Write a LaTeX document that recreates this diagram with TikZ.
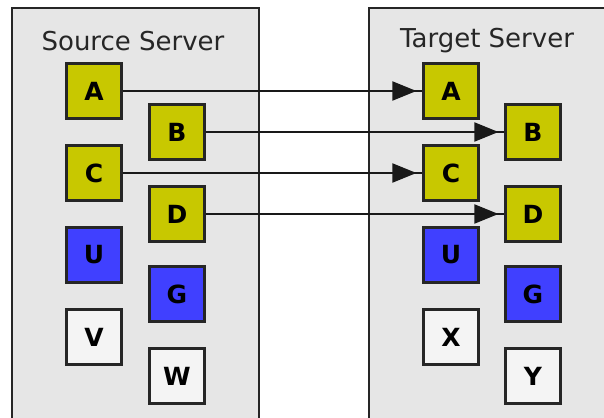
\documentclass[tikz,border=0pt]{standalone}
\usepackage{fontspec}
\setmainfont{DejaVu Sans}
\usetikzlibrary{arrows.meta, decorations.markings}

\definecolor{panelgray}{RGB}{230,230,230}
\definecolor{movedyellow}{RGB}{200,200,0}
\definecolor{keptblue}{RGB}{64,64,255}
\definecolor{plainwhite}{RGB}{244,244,244}

\begin{document}
\begin{tikzpicture}[x=1pt, y=-1pt,
    obj/.style={rectangle, draw=black!85, line width=2.2pt, minimum size=55pt,
        inner sep=0pt, font=\fontsize{25}{30}\selectfont\bfseries},
    moved/.style={obj, fill=movedyellow},
    kept/.style={obj, fill=keptblue},
    plain/.style={obj, fill=plainwhite},
    copyline/.style={line width=2pt, draw=black!90, postaction={decorate},
        decoration={markings, mark=at position -6pt with
            {\arrow{Triangle[length=24pt, width=19pt]}}}}]

\useasboundingbox (0,0) rectangle (604,417);
\clip (0,0) rectangle (604,417);

% servers
\begin{scope}[line width=2.5pt, draw=black!85]
    \draw[fill=panelgray] (12,8) rectangle (259,430);
    \draw[fill=panelgray] (369,8) rectangle (620,430);
\end{scope}

\begin{scope}[every node/.style={font=\fontsize{26}{30}\selectfont, text=black!85}]
    \node (stitle) at (133,41) {Source Server};
    \node (ttitle) at (487,41) {Target Server};
\end{scope}

% source objects
\node[moved] (sA) at (94,91) {A};
\node[moved] (sB) at (177,132) {B};
\node[moved] (sC) at (94,173) {C};
\node[moved] (sD) at (177,214) {D};
\node[kept] (sU) at (94,255) {U};
\node[kept] (sG) at (177,294) {G};
\node[plain] (sV) at (94,337) {V};
\node[plain] (sW) at (177,376) {W};

% target objects
\node[moved] (tA) at (451,91) {A};
\node[moved] (tB) at (533,132) {B};
\node[moved] (tC) at (451,173) {C};
\node[moved] (tD) at (533,214) {D};
\node[kept] (tU) at (451,255) {U};
\node[kept] (tG) at (533,294) {G};
\node[plain] (tX) at (451,337) {X};
\node[plain] (tY) at (533,376) {Y};

\draw[copyline] (sA) -- (tA);
\draw[copyline] (sB) -- (tB);
\draw[copyline] (sC) -- (tC);
\draw[copyline] (sD) -- (tD);

\end{tikzpicture}
\end{document}
